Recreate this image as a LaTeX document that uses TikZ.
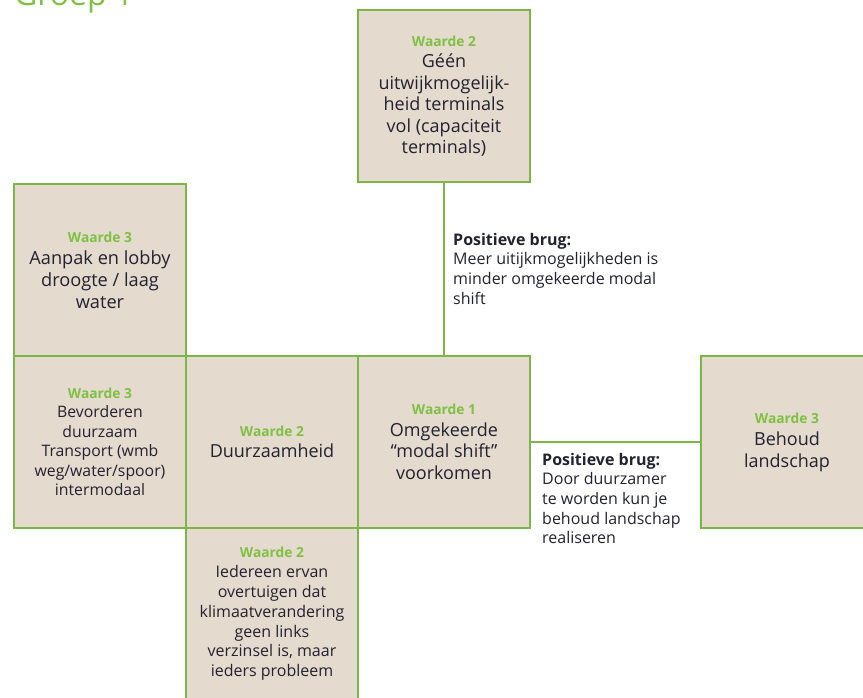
\documentclass[tikz,border=0pt]{standalone}
\usepackage{fontspec}
\setmainfont{Open Sans}
\usetikzlibrary{positioning}
\definecolor{WaardeFill}{RGB}{228,218,206}
\definecolor{WaardeLine}{RGB}{122,182,72}
\definecolor{WaardeGreen}{RGB}{128,192,66}
\definecolor{WaardeText}{RGB}{34,34,48}
\newcommand{\waarde}[1]{{\fontsize{13.8}{16}\selectfont\bfseries\color{WaardeGreen}#1}}

\begin{document}
\begin{tikzpicture}[x=1pt,y=-1pt,node distance=0pt,
  waardebox/.style={draw=WaardeLine,fill=WaardeFill,line width=1.6pt,minimum width=172pt,minimum height=172pt,inner sep=2pt,outer sep=0pt,align=center,text=WaardeText},
  brugtext/.style={anchor=north west,inner sep=0pt,align=left,text=WaardeText,font=\fontsize{16}{19.6}\selectfont},
  brug/.style={draw=WaardeLine,line width=1.4pt}]
  \useasboundingbox (0,0) rectangle (863,697);
  \node[anchor=base west,inner sep=0pt,text=WaardeGreen,font=\fontsize{32}{36}\selectfont] (titel) at (14,5) {Groep 1};
  % rij met waarden
  \node[waardebox,font=\fontsize{18}{21.5}\selectfont] (omgekeerd) at (444,442) {\waarde{Waarde 1}\\ Omgekeerde\\ “modal shift”\\ voorkomen};
  \node[waardebox,left=of omgekeerd,font=\fontsize{18}{21.5}\selectfont] (duurzaam) {\waarde{Waarde 2}\\ Duurzaamheid};
  \node[waardebox,left=of duurzaam,font=\fontsize{15.8}{19.5}\selectfont] (transport) {\waarde{Waarde 3}\\ Bevorderen\\ duurzaam\\ Transport (wmb\\ weg/water/spoor)\\ intermodaal};
  \node[waardebox,above=of transport,font=\fontsize{18.2}{22}\selectfont] (droogte) {\waarde{Waarde 3}\\ Aanpak en lobby\\ droogte / laag\\ water};
  \node[waardebox,below=of duurzaam,font=\fontsize{16}{19.8}\selectfont] (iedereen) {\waarde{Waarde 2}\\ Iedereen ervan\\ overtuigen dat\\ klimaatverandering\\ geen links\\ verzinsel is, maar\\ ieders probleem};
  \node[waardebox,above=174pt of omgekeerd,font=\fontsize{18}{21.5}\selectfont] (terminals) {\waarde{Waarde 2}\\ Géén\\ uitwijkmogelijk-\\ heid terminals\\ vol (capaciteit\\ terminals)};
  \node[waardebox,right=171pt of omgekeerd,font=\fontsize{18}{22}\selectfont] (landschap) {\waarde{Waarde 3}\\ Behoud\\ landschap};
  % bruggen
  \draw[brug] (terminals) -- (omgekeerd);
  \draw[brug] (omgekeerd) -- (landschap);
  \node[brugtext] (brugterminals) at (453,233) {\textbf{Positieve brug:}\\ Meer uitijkmogelijkheden is\\ minder omgekeerde modal\\ shift};
  \node[brugtext] (bruglandschap) at (542,453) {\textbf{Positieve brug:}\\ Door duurzamer\\ te worden kun je\\ behoud landschap\\ realiseren};
\end{tikzpicture}
\end{document}
